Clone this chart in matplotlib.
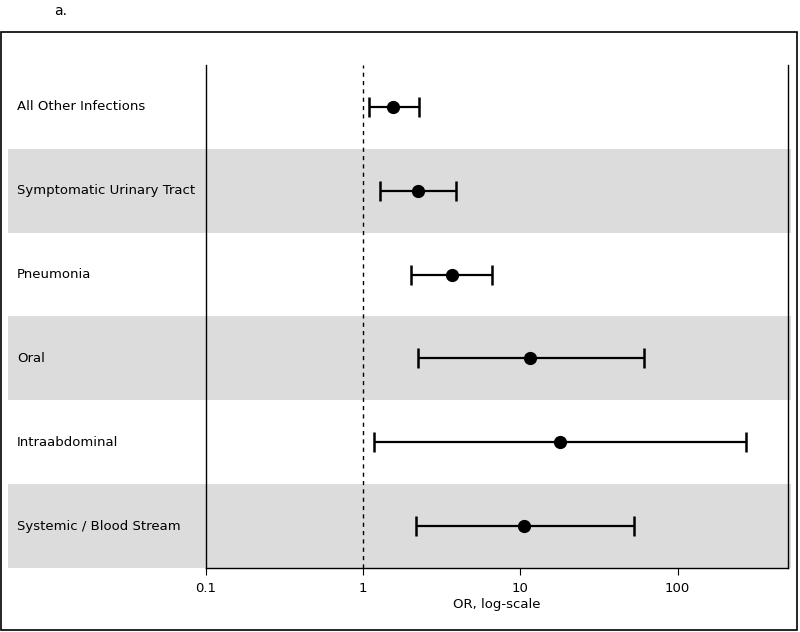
import matplotlib.pyplot as plt
from matplotlib.patches import Rectangle

# infection types, top to bottom
labels = ['All Other Infections', 'Symptomatic Urinary Tract', 'Pneumonia',
          'Oral', 'Intraabdominal', 'Systemic / Blood Stream']
odds_ratio = [1.55, 2.24, 3.65, 11.5, 17.8, 10.5]
ci_low = [1.09, 1.28, 2.00, 2.23, 1.17, 2.16]
ci_high = [2.26, 3.91, 6.62, 60.8, 271, 52.5]
shaded = [False, True, False, True, False, True]

tick_vals = [0.1, 1, 10, 100]
tick_labels = ['0.1', '1', '10', '100']

fig = plt.figure(figsize=(8, 6.32), dpi=100)
ax = fig.add_axes([0.2575, 0.1013, 0.7275, 0.7959])

n = len(labels)
ypos = [n - 1 - i for i in range(n)]

for y, lab, sh in zip(ypos, labels, shaded):
    if sh:
        ax.axhspan(y - 0.5, y + 0.5, xmin=-0.340, xmax=1.006,
                   color='#dcdcdc', lw=0, clip_on=False, zorder=0)
    ax.text(-0.325, y, lab, transform=ax.get_yaxis_transform(),
            ha='left', va='center', fontsize=9.5)

xerr = [[o - l for o, l in zip(odds_ratio, ci_low)],
        [h - o for o, h in zip(odds_ratio, ci_high)]]
ax.errorbar(odds_ratio, ypos, xerr=xerr, fmt='o', color='black',
            ms=8.5, elinewidth=1.6, capsize=7, capthick=1.8, zorder=3)

ax.axvline(1, color='black', lw=1, ls=(0, (3, 3)), zorder=1)

ax.set_xscale('log')
ax.set_xlim(0.1, 504)
ax.set_ylim(-0.5, n - 0.5)
ax.set_xticks(tick_vals)
ax.set_xticklabels(tick_labels, fontsize=9.5)
ax.minorticks_off()
ax.tick_params(axis='x', length=5, width=0.8, pad=5)
ax.set_yticks([])
ax.set_xlabel('OR, log-scale', fontsize=9.5, labelpad=2)
ax.patch.set_alpha(0)
ax.spines['top'].set_visible(False)
for s in ['left', 'right', 'bottom']:
    ax.spines[s].set_linewidth(1)

# outer frame and panel letter
fig.patches.append(Rectangle((0.00125, 0.003), 0.995, 0.946, transform=fig.transFigure,
                             fill=False, edgecolor='black', lw=1.2))
fig.text(0.068, 0.983, 'a.', fontsize=10, ha='left', va='center')

plt.savefig('out.png')
